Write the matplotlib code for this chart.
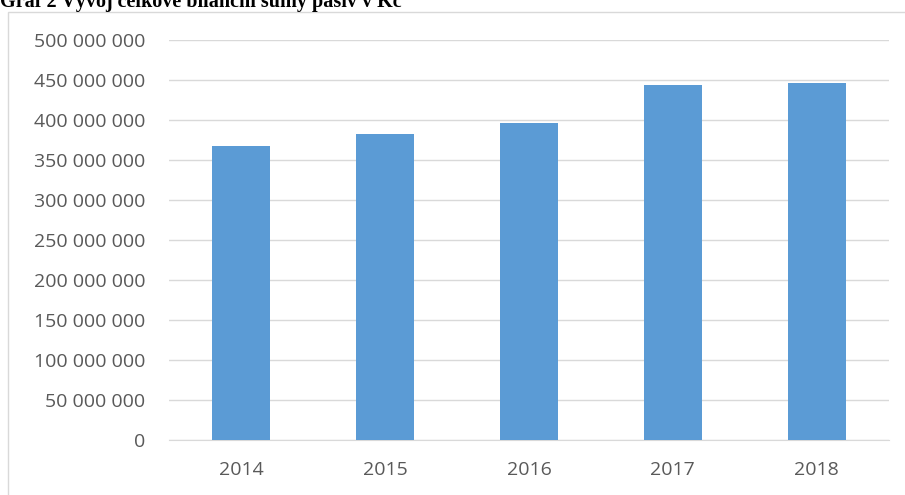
import matplotlib.pyplot as plt
from matplotlib.patches import Rectangle
from matplotlib.ticker import FuncFormatter

years = ['2014', '2015', '2016', '2017', '2018']
values = [367500000, 383000000, 396000000, 443800000, 446000000]
title = 'Graf 2 Vývoj celkové bilanční sumy pasiv v Kč'

fig = plt.figure(figsize=(9.05, 4.95), dpi=100)
ax = fig.add_axes([0.187, 0.111, 0.795, 0.808])

ax.bar(range(len(years)), values, width=0.4, color='#5b9bd5', zorder=3)
ax.set_xlim(-0.5, len(years) - 0.5)
ax.set_ylim(0, 500000000)
ax.set_yticks(range(0, 500000001, 50000000))
ax.yaxis.set_major_formatter(FuncFormatter(lambda v, p: '{:,.0f}'.format(v).replace(',', ' ')))
ax.set_xticks(range(len(years)))
ax.set_xticklabels(years)

ax.grid(axis='y', color='#d9d9d9', linewidth=1, zorder=0)
for s in ['top', 'right', 'left']:
    ax.spines[s].set_visible(False)
ax.spines['bottom'].set_color('#d9d9d9')
ax.tick_params(length=0, labelsize=14, colors='#595959')
ax.tick_params(axis='y', pad=17)
ax.tick_params(axis='x', pad=15)
for lab in ax.get_xticklabels() + ax.get_yticklabels():
    lab.set_family('Open Sans')

# chart frame
fig.patches.append(Rectangle((8 / 905, -0.1), 1.2, 1 - 12 / 495 + 0.1, transform=fig.transFigure,
                             fill=False, edgecolor='#d9d9d9', linewidth=1))

# caption sits partly above the image edge, as in the source
fig.text(0.0, 1 - 7 / 495, title, family='Liberation Serif', fontweight='bold',
         fontsize=14.5, va='baseline', ha='left')

fig.savefig('out.png', dpi=100)
